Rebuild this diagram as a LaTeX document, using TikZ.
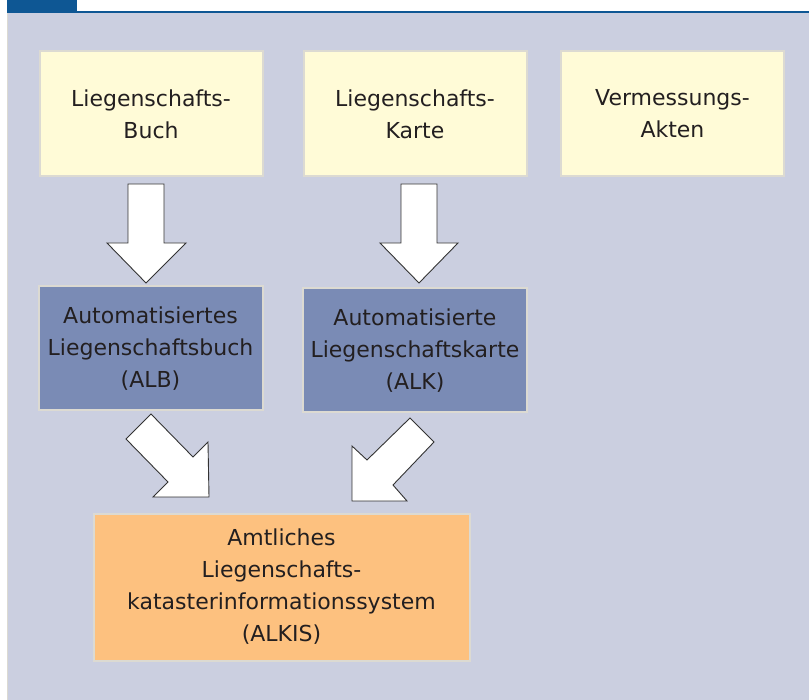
\documentclass[tikz,border=0pt]{standalone}
\usepackage{fontspec}
\setmainfont{DejaVu Sans}
\definecolor{bgl}{HTML}{CBCFE0}
\definecolor{yel}{HTML}{FFFBD7}
\definecolor{bluebox}{HTML}{7A8BB5}
\definecolor{orabox}{HTML}{FDC17F}
\definecolor{hdr}{HTML}{0E5794}
\definecolor{edge}{HTML}{DCDAD2}
\definecolor{txt}{HTML}{231F20}
\begin{document}
\begin{tikzpicture}[x=1pt,y=-1pt,
  box/.style={rectangle,draw=edge,line width=2pt,inner sep=0pt,align=center,
    text=txt,font=\fontsize{22}{32}\selectfont},
  srcbox/.style={box,fill=yel,minimum width=223pt,minimum height=125pt},
  autobox/.style={box,fill=bluebox,minimum width=224pt,minimum height=124pt},
  blockarrow/.style={draw=black!80,fill=white,line width=0.9pt,line join=miter}]
\useasboundingbox (0,0) rectangle (809,700);
% background and header
\fill[white] (0,0) rectangle (809,700);
\fill[bgl] (7,12) rectangle (809,700);
\draw[edge,line width=1pt] (7.5,12) -- (7.5,700);
\fill[hdr] (7,0) rectangle (77,12);
\fill[hdr] (7,11) rectangle (809,13.5);
% source boxes
\node[srcbox] (buch) at (151,114) {Liegenschafts-\\Buch};
\node[srcbox] (karte) at (415,114) {Liegenschafts-\\Karte};
\node[srcbox] (akten) at (672.5,113.5) {Vermessungs-\\Akten};
% automated boxes
\node[autobox] (alb) at (150.5,348.5) {Automatisiertes\\Liegenschaftsbuch\\(ALB)};
\node[autobox] (alk) at (415,350.5) {Automatisierte\\Liegenschaftskarte\\(ALK)};
% ALKIS
\node[box,fill=orabox,minimum width=376pt,minimum height=147pt] (alkis) at (281.5,587)
  {Amtliches\\Liegenschafts-\\katasterinformationssystem\\(ALKIS)};
% block arrows
\draw[blockarrow] (128,184) -- (164,184) -- (164,243) -- (186,243) -- (146,283)
  -- (107,243) -- (128,243) -- cycle;
\draw[blockarrow] (401,184) -- (437,184) -- (437,243) -- (458,243) -- (419,283)
  -- (380,243) -- (401,243) -- cycle;
\draw[blockarrow] (151,414) -- (193,457) -- (208,442) -- (209,497) -- (153,497)
  -- (168,482) -- (126,439) -- cycle;
\draw[blockarrow] (410,418) -- (434,442) -- (393,485) -- (407,501) -- (352,501)
  -- (352,446) -- (367,460) -- cycle;
\end{tikzpicture}
\end{document}
